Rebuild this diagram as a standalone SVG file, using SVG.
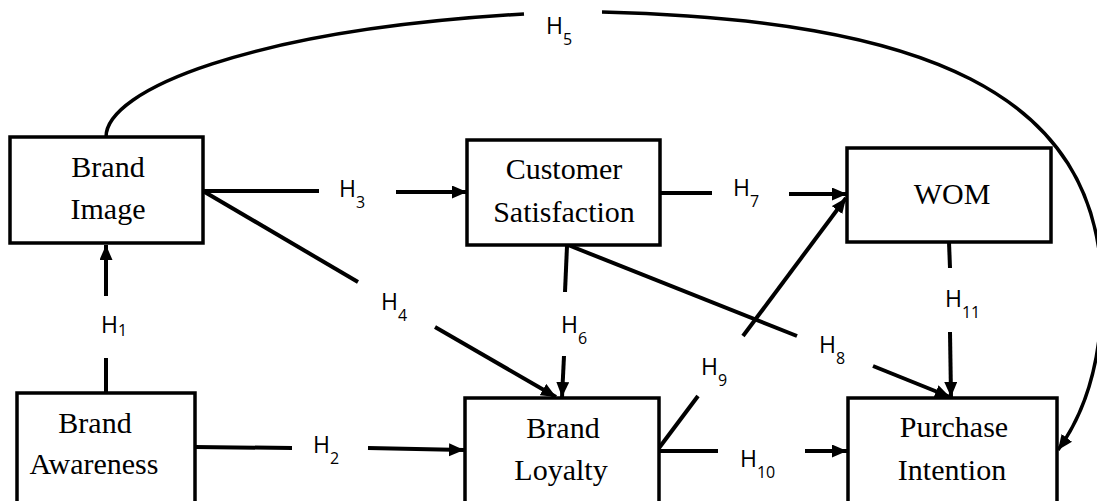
<svg xmlns="http://www.w3.org/2000/svg" width="1097" height="501" viewBox="0 0 1097 501">
<style>
.box{fill:#fff;stroke:#000;stroke-width:3.5}
.nt{font-family:"Liberation Serif",serif;font-size:30px;fill:#000;text-anchor:middle}
.ln{fill:none;stroke:#000;stroke-width:4}
.cv{fill:none;stroke:#000;stroke-width:3.5}
.lb{font-family:"Open Sans","Liberation Sans",sans-serif;font-size:23px;fill:#000}
.sb{font-size:16px}
</style>
<defs>
<marker id="ah" markerUnits="userSpaceOnUse" markerWidth="16" markerHeight="14" refX="15" refY="6.5" orient="auto">
<path d="M0,0 L15,6.5 L0,13 z" fill="#000"/>
</marker>
</defs>
<g id="connectors">
<line class="ln" x1="106" y1="393" x2="106" y2="358"/>
<line class="ln" x1="106" y1="296" x2="106" y2="245" marker-end="url(#ah)"/>
<line class="ln" x1="195" y1="447" x2="292" y2="448"/>
<line class="ln" x1="368" y1="448" x2="464" y2="450" marker-end="url(#ah)"/>
<line class="ln" x1="203" y1="191" x2="319" y2="191"/>
<line class="ln" x1="396" y1="192" x2="467" y2="192" marker-end="url(#ah)"/>
<line class="ln" x1="203" y1="191" x2="358" y2="282"/>
<line class="ln" x1="435" y1="327" x2="556" y2="397" marker-end="url(#ah)"/>
<path class="cv" d="M106,137 C106,90 250,30 524,14"/>
<path class="cv" d="M602,12 C920,20 1100,90 1102,290 C1102,370 1080,420 1058,450" marker-end="url(#ah)"/>
<line class="ln" x1="567" y1="246" x2="565" y2="292"/>
<line class="ln" x1="564" y1="356" x2="562" y2="397" marker-end="url(#ah)"/>
<line class="ln" x1="660" y1="193" x2="712" y2="193"/>
<line class="ln" x1="789" y1="194" x2="847" y2="194" marker-end="url(#ah)"/>
<line class="ln" x1="568" y1="245" x2="797" y2="336"/>
<line class="ln" x1="873" y1="366" x2="950" y2="397" marker-end="url(#ah)"/>
<line class="ln" x1="659" y1="448" x2="698" y2="396"/>
<line class="ln" x1="743" y1="336" x2="846" y2="198" marker-end="url(#ah)"/>
<line class="ln" x1="659" y1="451" x2="718" y2="451"/>
<line class="ln" x1="805" y1="451" x2="847" y2="451" marker-end="url(#ah)"/>
<line class="ln" x1="949" y1="242" x2="950" y2="268"/>
<line class="ln" x1="950" y1="332" x2="951" y2="397" marker-end="url(#ah)"/>
</g>
<g id="labels">
<text class="lb" x="101" y="333">H<tspan class="sb" dy="3">1</tspan></text>
<text class="lb" x="313" y="453">H<tspan class="sb" dy="11">2</tspan></text>
<text class="lb" x="339" y="197">H<tspan class="sb" dy="11">3</tspan></text>
<text class="lb" x="381" y="310">H<tspan class="sb" dy="11">4</tspan></text>
<text class="lb" x="546" y="34">H<tspan class="sb" dy="11">5</tspan></text>
<text class="lb" x="561" y="333">H<tspan class="sb" dy="11">6</tspan></text>
<text class="lb" x="733" y="196">H<tspan class="sb" dy="11">7</tspan></text>
<text class="lb" x="819" y="353">H<tspan class="sb" dy="11">8</tspan></text>
<text class="lb" x="701" y="375">H<tspan class="sb" dy="11">9</tspan></text>
<text class="lb" x="740" y="467">H<tspan class="sb" dy="11">10</tspan></text>
<text class="lb" x="945" y="307">H<tspan class="sb" dy="11">11</tspan></text>
</g>
<g id="brand-image">
<rect class="box" x="10" y="137" width="193" height="106"/>
<text class="nt" x="108" y="177">Brand</text>
<text class="nt" x="108" y="219">Image</text>
</g>
<g id="customer-satisfaction">
<rect class="box" x="467" y="140" width="193" height="105"/>
<text class="nt" x="564" y="179">Customer</text>
<text class="nt" x="564" y="222">Satisfaction</text>
</g>
<g id="wom">
<rect class="box" x="847" y="148" width="204" height="94"/>
<text class="nt" x="952" y="204">WOM</text>
</g>
<g id="brand-awareness">
<rect class="box" x="17" y="393" width="178" height="115"/>
<text class="nt" x="95" y="433">Brand</text>
<text class="nt" x="94" y="474">Awareness</text>
</g>
<g id="brand-loyalty">
<rect class="box" x="465" y="398" width="194" height="110"/>
<text class="nt" x="563" y="438">Brand</text>
<text class="nt" x="561" y="480">Loyalty</text>
</g>
<g id="purchase-intention">
<rect class="box" x="848" y="398" width="209" height="110"/>
<text class="nt" x="954" y="437">Purchase</text>
<text class="nt" x="952" y="480">Intention</text>
</g>
</svg>
